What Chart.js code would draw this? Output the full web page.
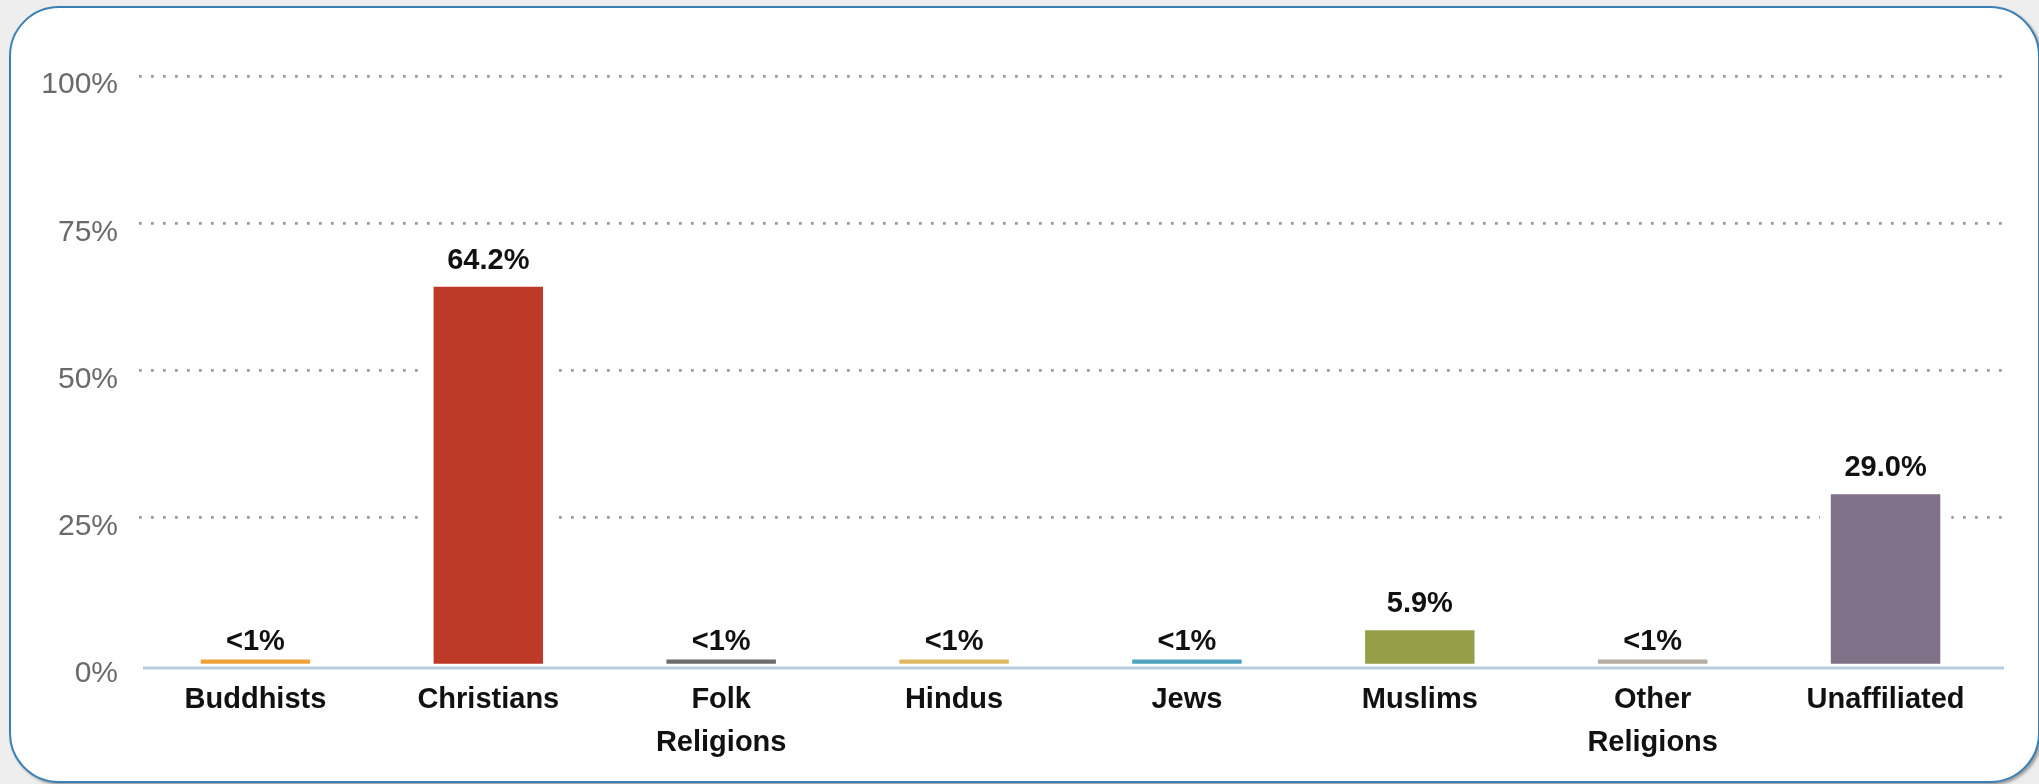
<!DOCTYPE html>
<html>
<head>
<meta charset="utf-8">
<script src="https://cdn.jsdelivr.net/npm/chart.js@4/dist/chart.umd.min.js"></script>
<style>
  html, body { margin: 0; padding: 0; background: #eeeeee; width: 2039px; height: 784px; overflow: hidden; }
  #frame { position: absolute; left: 9px; top: 6px; width: 2027px; height: 773px; background: #ffffff;
           border: 2px solid #3a80b5; border-radius: 50px; box-shadow: 2px 2px 3px rgba(0,0,0,0.35); }
  #wrap { position: absolute; left: 0; top: 0; width: 2039px; height: 784px; }
</style>
</head>
<body>
<div id="frame"></div>
<div id="wrap"><canvas id="c"></canvas></div>
<script>
const categories = [['Buddhists'], ['Christians'], ['Folk', 'Religions'], ['Hindus'], ['Jews'], ['Muslims'], ['Other', 'Religions'], ['Unaffiliated']];
const shares = [0.95, 64.2, 0.95, 0.95, 0.95, 5.9, 0.95, 29.0];
const barColors = ['#eda33a', '#bd3a28', '#6c6c6c', '#dfb862', '#4fa3c0', '#979e48', '#b6aca2', '#7f7187'];
const yTicks = [0, 25, 50, 75, 100];

function fmt(v) { return v < 1 ? '<1%' : v.toFixed(1) + '%'; }

const gapPlugin = {
  id: 'gap',
  beforeDatasetsDraw(chart) {
    const ctx = chart.ctx;
    const a = chart.chartArea;
    ctx.save();
    ctx.fillStyle = '#ffffff';
    chart.getDatasetMeta(0).data.forEach(el => {
      const p = el.getProps(['x', 'y', 'base', 'width'], true);
      ctx.fillRect(p.x - p.width / 2 - 11, p.y - 1, p.width + 22, p.base - p.y + 1);
    });
    ctx.strokeStyle = '#b9cde0';
    ctx.lineWidth = 3;
    ctx.beginPath();
    ctx.moveTo(a.left + 4, a.bottom + 3);
    ctx.lineTo(a.right + 2, a.bottom + 3);
    ctx.stroke();
    ctx.restore();
  }
};

const labelPlugin = {
  id: 'vlabels',
  afterDatasetsDraw(chart) {
    const ctx = chart.ctx;
    ctx.save();
    ctx.font = 'bold 29px "Liberation Sans", Arial, sans-serif';
    ctx.fillStyle = '#111111';
    ctx.textAlign = 'center';
    ctx.textBaseline = 'alphabetic';
    chart.getDatasetMeta(0).data.forEach((el, i) => {
      const p = el.getProps(['x', 'y'], true);
      const v = shares[i];
      const off = v < 1 ? 9 : 18;
      ctx.fillText(fmt(v), p.x, p.y - off);
    });
    ctx.restore();
  }
};

new Chart(document.getElementById('c'), {
  type: 'bar',
  data: {
    labels: categories,
    datasets: [{
      data: shares,
      backgroundColor: barColors,
      borderWidth: 0,
      barPercentage: 0.47,
      categoryPercentage: 1.0
    }]
  },
  options: {
    responsive: true,
    maintainAspectRatio: false,
    animation: false,
    layout: { padding: { left: 0, right: 37, top: 76, bottom: 0 } },
    plugins: { legend: { display: false }, tooltip: { enabled: false } },
    scales: {
      x: {
        grid: { display: false, drawTicks: false },
        border: { display: false },
        ticks: {
          color: '#111111',
          padding: 13,
          font: { family: '"Liberation Sans", Arial, sans-serif', size: 29, weight: 'bold', lineHeight: 1.5 },
          maxRotation: 0, autoSkip: false
        },
        afterFit(s) { s.height = 119; }
      },
      y: {
        min: 0, max: 100,
        afterBuildTicks(s) { s.ticks = yTicks.map(v => ({ value: v })); },
        grid: {
          color: c => (c.tick && c.tick.value === 0) ? 'rgba(0,0,0,0)' : '#999999',
          lineWidth: 2.7, drawTicks: false
        },
        border: { display: false, dash: [2.7, 9.3] },
        ticks: {
          color: '#6a6a6a',
          padding: 21,
          labelOffset: 9,
          font: { family: '"Liberation Sans", Arial, sans-serif', size: 30 },
          callback: v => v + '%'
        },
        afterFit(s) { s.width = 139; }
      }
    }
  },
  plugins: [gapPlugin, labelPlugin]
});
</script>
</body>
</html>
